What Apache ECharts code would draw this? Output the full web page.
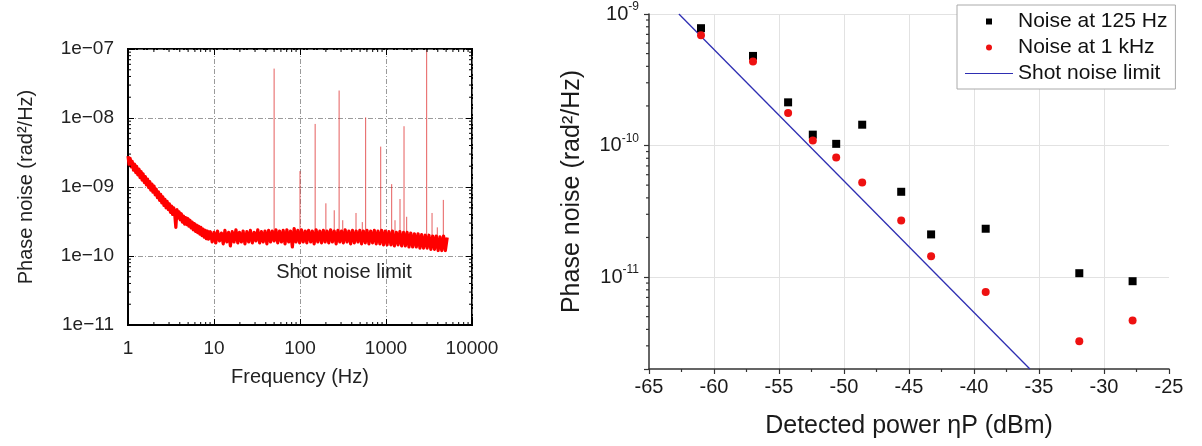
<!DOCTYPE html>
<html><head><meta charset="utf-8">
<script src="https://cdn.jsdelivr.net/npm/echarts@6/dist/echarts.min.js"></script>
<style>html,body{margin:0;padding:0;background:#fff}#c{width:1202px;height:446px}</style>
</head><body><div id="c"></div>
<script>
// ---------- Left panel: phase-noise spectrum ----------
const specFreq = [
  1.00,1.03,1.06,1.09,1.12,1.16,1.19,1.23,1.26,1.30,1.34,1.38,1.42,1.46,1.50,1.55,1.59,1.64,1.69,1.74,
  1.79,1.84,1.90,1.95,2.01,2.07,2.13,2.20,2.26,2.33,2.40,2.47,2.54,2.62,2.69,2.77,2.85,2.94,3.03,3.12,
  3.21,3.30,3.40,3.50,3.60,3.71,3.82,3.93,4.05,4.17,4.29,4.42,4.55,4.68,4.82,4.96,5.11,5.26,5.42,5.58,
  5.74,5.91,6.09,6.27,6.45,6.64,6.84,7.04,7.25,7.47,7.69,7.92,8.15,8.39,
  8.64,9.07,9.52,10.0,10.5,11.0,11.6,12.2,12.8,13.4,14.1,14.8,15.5,16.3,17.1,18.0,18.9,19.8,20.8,21.8,
  22.9,24.1,25.3,26.5,27.9,29.3,30.7,32.3,33.9,35.6,37.3,39.2,41.2,43.2,45.4,47.6,50.0,52.5,55.1,57.9,
  60.8,63.8,67.0,70.4,73.9,77.6,81.5,85.5,89.8,94.3,99.0,104,109,115,120,126,133,139,146,154,
  161,170,178,187,196,206,216,227,238,250,263,276,290,304,319,335,352,370,388,408,
  428,450,472,496,520,546,574,602,633,664,697,732,769,807,848,890,935,981,1030,1080,
  1140,1190,1250,1320,1380,1450,1520,1600,1680,1760,1850,1940,2040,2140,2250,2360,2480,2600,2730,2870,
  3010,3160,3320,3490,3660,3840,4040,4240,4450,4670,4900,5150
];
const specNoise = [
  2.8e-9,2.1e-9,2.6e-9,1.95e-9,2.35e-9,1.75e-9,2.15e-9,1.62e-9,2.0e-9,1.5e-9,1.82e-9,1.37e-9,1.68e-9,1.26e-9,1.55e-9,1.16e-9,1.42e-9,1.07e-9,1.3e-9,9.8e-10,
  1.2e-9,9.0e-10,1.1e-9,8.4e-10,1.03e-9,7.7e-10,9.3e-10,7.0e-10,8.5e-10,6.4e-10,7.8e-10,5.9e-10,7.2e-10,5.4e-10,6.6e-10,5.0e-10,6.2e-10,4.7e-10,5.7e-10,4.3e-10,
  5.3e-10,4.0e-10,5.0e-10,3.9e-10,2.6e-10,4.7e-10,3.55e-10,4.35e-10,3.35e-10,4.1e-10,3.1e-10,3.8e-10,2.9e-10,3.6e-10,2.85e-10,3.5e-10,2.7e-10,3.3e-10,2.55e-10,3.1e-10,
  2.4e-10,2.95e-10,2.28e-10,2.8e-10,2.18e-10,2.7e-10,2.08e-10,2.6e-10,1.98e-10,2.45e-10,1.87e-10,2.35e-10,1.78e-10,2.3e-10,
  1.75e-10,2.25e-10,1.6e-10,2.2e-10,1.55e-10,2.3e-10,1.65e-10,2.15e-10,1.5e-10,2.35e-10,1.6e-10,2.2e-10,1.4e-10,2.25e-10,1.6e-10,2.4e-10,1.55e-10,2.2e-10,1.6e-10,2.3e-10,
  1.5e-10,2.25e-10,1.6e-10,2.35e-10,1.55e-10,2.2e-10,1.65e-10,2.4e-10,1.55e-10,2.25e-10,1.6e-10,2.3e-10,1.5e-10,2.35e-10,1.6e-10,2.3e-10,1.65e-10,2.4e-10,1.55e-10,2.3e-10,
  1.6e-10,2.35e-10,1.5e-10,2.4e-10,1.6e-10,2.3e-10,1.35e-10,2.5e-10,1.6e-10,2.35e-10,1.55e-10,2.4e-10,1.6e-10,2.3e-10,1.55e-10,2.35e-10,1.6e-10,2.3e-10,1.5e-10,2.4e-10,
  1.6e-10,2.3e-10,1.55e-10,2.35e-10,1.6e-10,2.3e-10,1.55e-10,2.4e-10,1.6e-10,2.3e-10,1.5e-10,2.35e-10,1.6e-10,2.3e-10,1.55e-10,2.4e-10,1.6e-10,2.3e-10,1.5e-10,2.35e-10,
  1.55e-10,2.3e-10,1.6e-10,2.35e-10,1.5e-10,2.3e-10,1.55e-10,2.35e-10,1.5e-10,2.3e-10,1.55e-10,2.35e-10,1.5e-10,2.3e-10,1.5e-10,2.35e-10,1.45e-10,2.3e-10,1.45e-10,2.25e-10,
  1.45e-10,2.3e-10,1.4e-10,2.2e-10,1.45e-10,2.25e-10,1.4e-10,2.2e-10,1.4e-10,2.2e-10,1.35e-10,2.15e-10,1.35e-10,2.1e-10,1.35e-10,2.1e-10,1.3e-10,2.05e-10,1.3e-10,2.0e-10,
  1.3e-10,2.0e-10,1.25e-10,1.95e-10,1.25e-10,1.95e-10,1.2e-10,1.9e-10,1.2e-10,1.95e-10,1.2e-10,1.85e-10
];
const spikeFreq = [50, 100, 150, 200, 250, 285, 314, 448, 530, 580, 868, 1164, 1273, 1455, 1620, 1740, 2970, 3430, 3950, 4640];
const spikeTop  = [5.2e-8, 1.7e-9, 8.2e-9, 5.8e-10, 4.6e-10, 2.5e-8, 3.3e-10, 4.2e-10, 3.1e-10, 1.02e-8, 3.85e-9, 1.1e-9, 3.3e-10, 6.7e-10, 7.6e-9, 3.7e-10, 9.7e-8, 4.2e-10, 2.6e-10, 6.5e-10];
const spikeBase = 1.9e-10;
const leftNote = { text: 'Shot noise limit', freq: 325, value: 5.7e-11 };

// ---------- Right panel: noise vs detected power ----------
const powerDbm   = [-61.0, -57.0, -54.3, -52.4, -50.6, -48.6, -45.6, -43.3, -39.1, -31.9, -27.8];
const noise125Hz = [7.8e-10, 4.8e-10, 2.13e-10, 1.21e-10, 1.03e-10, 1.44e-10, 4.45e-11, 2.11e-11, 2.33e-11, 1.07e-11, 9.3e-12];
const noise1kHz  = [6.9e-10, 4.35e-10, 1.77e-10, 1.09e-10, 8.1e-11, 5.24e-11, 2.69e-11, 1.44e-11, 7.7e-12, 3.25e-12, 4.68e-12];
const shotX = [-62.7, -35.7];
const shotY = [1e-9, 2e-12];
const seriesNames = ['Noise at 125 Hz', 'Noise at 1 kHz', 'Shot noise limit'];

const FONT = 'Liberation Sans, Arial, Helvetica, sans-serif';

// minor tick positions (2..9 x each decade)
function minorLog(fromExp, toExp) {
  const out = [];
  for (let e = fromExp; e < toExp; e++) for (let m = 2; m <= 9; m++) out.push(m * Math.pow(10, e));
  return out;
}
const L_XMIN = 1, L_XMAX = 10000, L_YMIN = 1e-11, L_YMAX = 1e-7;
const R_XMIN = -65, R_XMAX = -25, R_YMIN = 2e-12, R_YMAX = 1e-9;
const leftXMinor = minorLog(0, 4);
const leftYMinor = minorLog(-11, -7);
const rightYMinor = minorLog(-12, -9).filter(v => v > 2.05e-12);

// tick-mark custom series: draws a short segment at a data point, offset in pixels
function tickSeries(xi, yi, pts, dx, dy, color, width) {
  return {
    type: 'custom', xAxisIndex: xi, yAxisIndex: yi, silent: true, clip: false, z: 5,
    data: pts, encode: { x: 0, y: 1 },
    renderItem: (params, api) => {
      const p = api.coord([api.value(0), api.value(1)]);
      return { type: 'line', shape: { x1: p[0], y1: p[1], x2: p[0] + dx, y2: p[1] + dy },
               style: { stroke: color, lineWidth: width } };
    }
  };
}

function leftX(pos, extra) {
  return Object.assign({
    gridIndex: 0, type: 'log', logBase: 10, min: L_XMIN, max: L_XMAX, position: pos,
    axisLine: { show: false }, axisLabel: { show: false }, splitLine: { show: false },
    axisTick: { inside: true, length: 6, lineStyle: { color: '#000', width: 1 } }
  }, extra || {});
}
function leftY(pos, extra) {
  return Object.assign({
    gridIndex: 0, type: 'log', logBase: 10, min: L_YMIN, max: L_YMAX, position: pos,
    axisLine: { show: false }, axisLabel: { show: false }, splitLine: { show: false },
    axisTick: { inside: true, length: 6, lineStyle: { color: '#000', width: 1 } }
  }, extra || {});
}
const gridDash = { color: '#808080', width: 0.8, type: [5, 2, 1, 2] };

const option = {
  animation: false,
  textStyle: { fontFamily: FONT },
  grid: [
    { left: 128, top: 49, width: 344, height: 276, show: true, borderColor: '#000', borderWidth: 2, outerBoundsMode: 'none' },
    { left: 649, top: 14, width: 520, height: 355, outerBoundsMode: 'none' }
  ],
  xAxis: [
    leftX('bottom', {
      axisLine: { show: true, lineStyle: { color: '#000', width: 2 } },
      axisLabel: { show: true, fontSize: 19, color: '#222', margin: 14, fontFamily: FONT,
                   showMinLabel: true, showMaxLabel: true, formatter: v => String(Math.round(v)) },
      splitLine: { show: true, lineStyle: gridDash },
      name: 'Frequency (Hz)', nameLocation: 'middle', nameGap: 42, nameMoveOverlap: false,
      nameTextStyle: { fontSize: 20, color: '#222', fontFamily: FONT }
    }),
    leftX('top'),
    {
      gridIndex: 1, type: 'value', min: R_XMIN, max: R_XMAX, interval: 5,
      axisLine: { show: true, lineStyle: { color: '#333', width: 1.5 } },
      axisTick: { show: true, length: 5, lineStyle: { color: '#333', width: 1.2 } },
      minorTick: { show: true, splitNumber: 2, length: 3, lineStyle: { color: '#333', width: 1.2 } },
      axisLabel: { fontSize: 20, color: '#1a1a1a', margin: 8, fontFamily: FONT, showMinLabel: true, showMaxLabel: true },
      splitLine: { show: true, showMinLine: false, showMaxLine: false, lineStyle: { color: '#e2e2e2', width: 1 } },
      name: 'Detected power \u03b7P (dBm)', nameLocation: 'middle', nameGap: 45, nameMoveOverlap: false,
      nameTextStyle: { fontSize: 25, color: '#1a1a1a', fontFamily: FONT }
    }
  ],
  yAxis: [
    leftY('left', {
      axisLine: { show: true, lineStyle: { color: '#000', width: 2 } },
      axisLabel: { show: true, fontSize: 19, color: '#222', margin: 14, fontFamily: FONT,
                   showMinLabel: true, showMaxLabel: true,
                   formatter: v => { const e = Math.round(Math.log10(v)); return '1e\u2212' + String(-e).padStart(2, '0'); } },
      splitLine: { show: true, lineStyle: gridDash },
      name: 'Phase noise (rad\u00b2/Hz)', nameLocation: 'middle', nameGap: 92, nameMoveOverlap: false,
      nameTextStyle: { fontSize: 20, color: '#222', fontFamily: FONT }
    }),
    leftY('right'),
    {
      gridIndex: 1, type: 'log', logBase: 10, min: R_YMIN, max: R_YMAX, position: 'left',
      axisLine: { show: true, lineStyle: { color: '#333', width: 1.5 } },
      axisTick: { show: true, length: 5, lineStyle: { color: '#333', width: 1.2 } },
      axisLabel: {
        margin: 10, color: '#1a1a1a', fontFamily: FONT, showMinLabel: true, showMaxLabel: true,
        formatter: v => {
          const e = Math.round(Math.log10(v));
          if (Math.abs(v / Math.pow(10, e) - 1) > 1e-6) return '';
          return '{b|10}{s|' + e + '}';
        },
        rich: {
          b: { fontSize: 20, lineHeight: 26, color: '#1a1a1a', fontFamily: FONT },
          s: { fontSize: 12, lineHeight: 12, verticalAlign: 'top', color: '#1a1a1a', fontFamily: FONT }
        }
      },
      splitLine: { show: true, showMinLine: false, showMaxLine: false, lineStyle: { color: '#e2e2e2', width: 1 } },
      name: 'Phase noise (rad\u00b2/Hz)', nameLocation: 'middle', nameGap: 64, nameMoveOverlap: false,
      nameTextStyle: { fontSize: 25, color: '#1a1a1a', fontFamily: FONT }
    }
  ],
  legend: {
    left: 957, top: 5, orient: 'vertical', itemWidth: 48, itemHeight: 6, itemGap: 5, itemTextGap: 7,
    padding: [6, 8, 5, 8], borderColor: '#aaa', borderWidth: 1, borderRadius: 0, backgroundColor: '#fff',
    selectedMode: false,
    textStyle: { fontSize: 21, color: '#111', fontFamily: FONT },
    data: [
      { name: seriesNames[0], icon: 'path://M0,0H10V10H0Z' },
      { name: seriesNames[1], icon: 'circle' },
      { name: seriesNames[2], icon: 'path://M0,0H40V1H0Z' }
    ]
  },
  series: [
    {
      type: 'custom', xAxisIndex: 0, yAxisIndex: 0, z: 2, silent: true,
      data: spikeFreq.map((f, i) => [f, spikeTop[i]]),
      encode: { x: 0, y: 1 },
      renderItem: (params, api) => {
        const p1 = api.coord([api.value(0), spikeBase]);
        const p2 = api.coord([api.value(0), api.value(1)]);
        return { type: 'line', shape: { x1: p1[0], y1: p1[1], x2: p2[0], y2: p2[1] },
                 style: { stroke: 'rgba(222,40,40,0.75)', lineWidth: 1 } };
      }
    },
    {
      type: 'line', xAxisIndex: 0, yAxisIndex: 0, z: 3, silent: true,
      data: specFreq.map((f, i) => [f, specNoise[i]]),
      symbol: 'none', lineStyle: { color: '#ff0000', width: 3.2, join: 'round' }
    },
    tickSeries(0, 0, leftXMinor.map(f => [f, L_YMIN]), 0, -3, '#000', 1),
    tickSeries(0, 0, leftXMinor.map(f => [f, L_YMAX]), 0, 3, '#000', 1),
    tickSeries(0, 0, leftYMinor.map(v => [L_XMIN, v]), 3, 0, '#000', 1),
    tickSeries(0, 0, leftYMinor.map(v => [L_XMAX, v]), -3, 0, '#000', 1),
    tickSeries(2, 2, rightYMinor.map(v => [R_XMIN, v]), -3, 0, '#333', 1.2),
    {
      type: 'line', name: seriesNames[2], xAxisIndex: 2, yAxisIndex: 2, z: 2,
      data: shotX.map((x, i) => [x, shotY[i]]), symbol: 'none', showSymbol: false,
      lineStyle: { color: '#2e2eb2', width: 1.3 }, itemStyle: { color: '#2e2eb2' }
    },
    {
      type: 'scatter', name: seriesNames[0], xAxisIndex: 2, yAxisIndex: 2, z: 3,
      data: powerDbm.map((p, i) => [p, noise125Hz[i]]), symbol: 'rect', symbolSize: 8,
      itemStyle: { color: '#000', opacity: 1 }
    },
    {
      type: 'scatter', name: seriesNames[1], xAxisIndex: 2, yAxisIndex: 2, z: 4,
      data: powerDbm.map((p, i) => [p, noise1kHz[i]]), symbol: 'circle', symbolSize: 8,
      itemStyle: { color: '#ee1111', opacity: 1 }
    }
  ]
};
const chart = echarts.init(document.getElementById('c'), null, { renderer: 'canvas' });
chart.setOption(option);
// annotation text anchored at a data coordinate of the left panel
const notePx = chart.convertToPixel({ xAxisIndex: 0, yAxisIndex: 0 }, [leftNote.freq, leftNote.value]);
chart.setOption({
  graphic: [{
    type: 'text', x: notePx[0], y: notePx[1], silent: true, z: 10,
    style: { text: leftNote.text, fontSize: 20, fill: '#222', fontFamily: FONT, align: 'center', verticalAlign: 'middle' }
  }]
});
</script>
</body></html>
